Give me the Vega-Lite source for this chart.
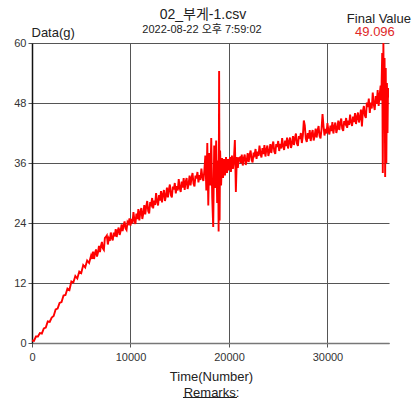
{
  "$schema": "https://vega.github.io/schema/vega-lite/v6.json",
  "width": 357,
  "height": 300,
  "autosize": {"type": "none"},
  "padding": {"left": 32, "top": 43, "right": 26, "bottom": 56},
  "background": "white",
  "config": {
    "font": "Liberation Sans, Noto Sans CJK KR",
    "view": {"stroke": null}
  },
  "layer": [
    {
      "data": {
        "values": [
          {"t":0,"v":0.5},{"t":200,"v":0.4},{"t":400,"v":1.3},{"t":600,"v":1.3},{"t":800,"v":2.0},{"t":1000,"v":1.9},
          {"t":1200,"v":2.9},{"t":1400,"v":3.1},{"t":1600,"v":4.3},{"t":1800,"v":4.2},{"t":2000,"v":5.1},{"t":2200,"v":5.4},
          {"t":2400,"v":6.7},{"t":2600,"v":6.9},{"t":2800,"v":8.0},{"t":3000,"v":8.2},{"t":3200,"v":9.5},{"t":3400,"v":9.6},
          {"t":3600,"v":10.9},{"t":3800,"v":10.6},{"t":4000,"v":12.3},{"t":4200,"v":12.1},{"t":4400,"v":13.4},{"t":4600,"v":12.9},
          {"t":4800,"v":14.3},{"t":5000,"v":14.0},{"t":5200,"v":15.6},{"t":5400,"v":15.1},{"t":5600,"v":16.5},{"t":5800,"v":16.0},
          {"t":6000,"v":17.5},{"t":6100,"v":16.8},{"t":6200,"v":18.3},{"t":6300,"v":16.8},{"t":6400,"v":18.0},{"t":6500,"v":18.7},
          {"t":6600,"v":17.3},{"t":6700,"v":18.1},{"t":6800,"v":19.4},{"t":6900,"v":18.2},{"t":7000,"v":19.4},{"t":7100,"v":20.2},
          {"t":7200,"v":18.9},{"t":7300,"v":18.6},{"t":7400,"v":21.0},{"t":7500,"v":21.2},{"t":7600,"v":21.5},{"t":7700,"v":19.7},
          {"t":7800,"v":20.9},{"t":7900,"v":20.4},{"t":8000,"v":22.1},{"t":8100,"v":21.0},{"t":8200,"v":20.5},{"t":8300,"v":22.1},
          {"t":8400,"v":21.3},{"t":8500,"v":22.8},{"t":8600,"v":21.2},{"t":8700,"v":22.4},{"t":8800,"v":23.1},{"t":8900,"v":21.6},
          {"t":9000,"v":22.4},{"t":9100,"v":23.7},{"t":9200,"v":22.4},{"t":9300,"v":23.5},{"t":9400,"v":24.3},{"t":9500,"v":22.9},
          {"t":9600,"v":22.6},{"t":9700,"v":24.2},{"t":9800,"v":23.9},{"t":9900,"v":24.9},{"t":10000,"v":23.5},{"t":10100,"v":24.8},
          {"t":10200,"v":23.9},{"t":10300,"v":26.2},{"t":10400,"v":24.6},{"t":10500,"v":23.8},{"t":10600,"v":25.9},{"t":10700,"v":24.8},
          {"t":10800,"v":26.8},{"t":10900,"v":24.5},{"t":11000,"v":26.1},{"t":11100,"v":27.0},{"t":11200,"v":24.8},{"t":11300,"v":25.9},
          {"t":11400,"v":27.6},{"t":11500,"v":25.7},{"t":11600,"v":27.3},{"t":11700,"v":28.4},{"t":11800,"v":26.4},{"t":11900,"v":25.9},
          {"t":12000,"v":28.2},{"t":12100,"v":27.7},{"t":12200,"v":29.0},{"t":12300,"v":26.9},{"t":12400,"v":28.5},{"t":12500,"v":27.6},
          {"t":12600,"v":30.0},{"t":12700,"v":28.3},{"t":12800,"v":27.5},{"t":12900,"v":29.6},{"t":13000,"v":28.5},{"t":13100,"v":30.4},
          {"t":13200,"v":28.1},{"t":13300,"v":29.7},{"t":13400,"v":30.6},{"t":13500,"v":28.4},{"t":13600,"v":29.4},{"t":13700,"v":31.1},
          {"t":13800,"v":29.1},{"t":13900,"v":30.7},{"t":14000,"v":31.7},{"t":14100,"v":29.6},{"t":14200,"v":29.1},{"t":14300,"v":31.3},
          {"t":14400,"v":30.7},{"t":14500,"v":32.0},{"t":14600,"v":29.9},{"t":14700,"v":31.4},{"t":14800,"v":30.5},{"t":14900,"v":32.8},
          {"t":15000,"v":31.0},{"t":15100,"v":30.2},{"t":15200,"v":32.3},{"t":15300,"v":31.1},{"t":15400,"v":33.0},{"t":15500,"v":30.6},
          {"t":15600,"v":32.2},{"t":15700,"v":33.0},{"t":15800,"v":30.8},{"t":15900,"v":31.8},{"t":16000,"v":33.5},{"t":16100,"v":31.5},
          {"t":16200,"v":33.0},{"t":16300,"v":34.0},{"t":16400,"v":31.9},{"t":16500,"v":31.3},{"t":16600,"v":33.5},{"t":16700,"v":32.9},
          {"t":16800,"v":34.2},{"t":16900,"v":32.1},{"t":17000,"v":33.6},{"t":17100,"v":32.6},{"t":17200,"v":34.9},{"t":17300,"v":33.2},
          {"t":17400,"v":32.4},{"t":17500,"v":34.5},{"t":17600,"v":37.5},{"t":17700,"v":30.5},{"t":17800,"v":40.0},{"t":17900,"v":27.5},
          {"t":18000,"v":38.0},{"t":18100,"v":31.5},{"t":18200,"v":41.0},{"t":18300,"v":29.0},{"t":18400,"v":23.2},{"t":18500,"v":39.5},
          {"t":18600,"v":31.0},{"t":18700,"v":40.5},{"t":18800,"v":28.0},{"t":18900,"v":36.5},{"t":18950,"v":22.3},{"t":19000,"v":54.4},
          {"t":19050,"v":24.5},{"t":19100,"v":38.5},{"t":19200,"v":31.5},{"t":19300,"v":37.0},{"t":19400,"v":33.0},{"t":19500,"v":36.8},
          {"t":19600,"v":33.5},{"t":19700,"v":37.2},{"t":19800,"v":34.0},{"t":19900,"v":36.8},{"t":20000,"v":34.5},{"t":20100,"v":37.2},
          {"t":20200,"v":34.2},{"t":20300,"v":37.5},{"t":20400,"v":34.8},{"t":20500,"v":36.6},{"t":20600,"v":40.6},{"t":20700,"v":30.2},
          {"t":20800,"v":37.2},{"t":20900,"v":35.0},{"t":21000,"v":37.0},{"t":21100,"v":37.1},{"t":21200,"v":36.0},{"t":21300,"v":37.7},
          {"t":21400,"v":35.5},{"t":21500,"v":36.9},{"t":21600,"v":37.7},{"t":21700,"v":35.6},{"t":21800,"v":36.5},{"t":21900,"v":38.0},
          {"t":22000,"v":36.2},{"t":22100,"v":37.6},{"t":22200,"v":38.5},{"t":22300,"v":36.6},{"t":22400,"v":36.1},{"t":22500,"v":38.1},
          {"t":22600,"v":37.6},{"t":22700,"v":38.8},{"t":22800,"v":36.8},{"t":22900,"v":38.3},{"t":23000,"v":37.4},{"t":23100,"v":39.5},
          {"t":23200,"v":37.9},{"t":23300,"v":37.1},{"t":23400,"v":39.0},{"t":23500,"v":37.8},{"t":23600,"v":39.6},{"t":23700,"v":37.3},
          {"t":23800,"v":38.7},{"t":23900,"v":39.5},{"t":24000,"v":37.4},{"t":24100,"v":38.3},{"t":24200,"v":39.8},{"t":24300,"v":38.0},
          {"t":24400,"v":39.4},{"t":24500,"v":40.3},{"t":24600,"v":38.3},{"t":24700,"v":37.8},{"t":24800,"v":39.8},{"t":24900,"v":39.2},
          {"t":25000,"v":40.4},{"t":25100,"v":38.4},{"t":25200,"v":39.8},{"t":25300,"v":38.9},{"t":25400,"v":41.0},{"t":25500,"v":39.4},
          {"t":25600,"v":38.6},{"t":25700,"v":40.5},{"t":25800,"v":39.4},{"t":25900,"v":41.1},{"t":26000,"v":38.9},{"t":26100,"v":40.3},
          {"t":26200,"v":41.1},{"t":26300,"v":39.0},{"t":26400,"v":39.9},{"t":26500,"v":41.4},{"t":26600,"v":39.6},{"t":26700,"v":41.0},
          {"t":26800,"v":41.9},{"t":26900,"v":39.9},{"t":27000,"v":39.4},{"t":27100,"v":41.4},{"t":27200,"v":40.8},{"t":27300,"v":42.0},
          {"t":27400,"v":40.0},{"t":27500,"v":41.4},{"t":27600,"v":44.5},{"t":27700,"v":43.5},{"t":27800,"v":40.9},{"t":27900,"v":40.2},
          {"t":28000,"v":42.0},{"t":28100,"v":40.9},{"t":28200,"v":42.6},{"t":28300,"v":40.4},{"t":28400,"v":41.8},{"t":28500,"v":42.6},
          {"t":28600,"v":40.5},{"t":28700,"v":41.4},{"t":28800,"v":42.9},{"t":28900,"v":41.1},{"t":29000,"v":42.5},{"t":29100,"v":43.4},
          {"t":29200,"v":41.4},{"t":29300,"v":40.9},{"t":29400,"v":42.8},{"t":29500,"v":45.8},{"t":29600,"v":43.4},{"t":29700,"v":41.5},
          {"t":29800,"v":42.8},{"t":29900,"v":41.9},{"t":30000,"v":44.0},{"t":30100,"v":42.4},{"t":30200,"v":41.7},{"t":30300,"v":43.5},
          {"t":30400,"v":42.4},{"t":30500,"v":44.2},{"t":30600,"v":41.9},{"t":30700,"v":43.3},{"t":30800,"v":44.1},{"t":30900,"v":42.0},
          {"t":31000,"v":42.9},{"t":31100,"v":44.5},{"t":31200,"v":42.6},{"t":31300,"v":44.0},{"t":31400,"v":44.9},{"t":31500,"v":42.9},
          {"t":31600,"v":42.4},{"t":31700,"v":44.4},{"t":31800,"v":43.9},{"t":31900,"v":45.0},{"t":32000,"v":43.0},{"t":32100,"v":44.5},
          {"t":32200,"v":43.6},{"t":32300,"v":45.7},{"t":32400,"v":44.2},{"t":32500,"v":43.4},{"t":32600,"v":45.3},{"t":32700,"v":44.2},
          {"t":32800,"v":46.0},{"t":32900,"v":43.8},{"t":33000,"v":45.2},{"t":33100,"v":46.1},{"t":33200,"v":44.1},{"t":33300,"v":45.1},
          {"t":33400,"v":46.7},{"t":33500,"v":43.3},{"t":33600,"v":46.4},{"t":33700,"v":47.4},{"t":33800,"v":45.5},{"t":33900,"v":45.0},
          {"t":34000,"v":48.1},{"t":34100,"v":47.2},{"t":34200,"v":48.9},{"t":34300,"v":46.0},{"t":34400,"v":48.1},{"t":34500,"v":46.9},
          {"t":34600,"v":50.1},{"t":34700,"v":47.7},{"t":34800,"v":46.6},{"t":34900,"v":49.4},{"t":35000,"v":47.8},{"t":35100,"v":50.6},
          {"t":35200,"v":47.4},{"t":35300,"v":49.6},{"t":35400,"v":51.5},{"t":35450,"v":48.5},{"t":35500,"v":52.0},{"t":35560,"v":58.0},
          {"t":35620,"v":34.0},{"t":35680,"v":60.0},{"t":35740,"v":46.0},{"t":35800,"v":57.0},{"t":35860,"v":33.2},{"t":35920,"v":55.0},
          {"t":35980,"v":36.0},{"t":36040,"v":52.0},{"t":36100,"v":42.0},{"t":36150,"v":51.0},{"t":36200,"v":49.1}
        ]
      },
      "mark": {"type": "line", "color": "#ff0000", "strokeWidth": 1.9, "clip": true},
      "encoding": {
        "x": {
          "field": "t", "type": "quantitative",
          "scale": {"domain": [0, 36250], "nice": false, "zero": false},
          "axis": {
            "values": [0, 10000, 20000, 30000],
            "format": "d",
            "grid": true, "gridColor": "#555", "gridOpacity": 1, "gridWidth": 1,
            "domainColor": "#777", "domainWidth": 1.5,
            "tickColor": "#555", "tickSize": 4,
            "labelColor": "#333", "labelFontSize": 11, "labelPadding": 4,
            "labelFlush": false,
            "title": ["Time(Number)", "Remarks:"],
            "titleFontSize": 13, "titleFontWeight": "normal", "titleColor": "#222",
            "titleLineHeight": 16, "titleBaseline": "top", "titleY": 27, "titleX": 179
          }
        },
        "y": {
          "field": "v", "type": "quantitative",
          "scale": {"domain": [0, 60], "nice": false},
          "axis": {
            "values": [0, 12, 24, 36, 48, 60],
            "grid": true, "gridColor": "#555", "gridOpacity": 1, "gridWidth": 1,
            "domainColor": "#111", "domainWidth": 1.5,
            "tickColor": "#555", "tickSize": 4,
            "labelColor": "#333", "labelFontSize": 11, "labelPadding": 2,
            "title": "Data(g)", "titleAngle": 0, "titleAlign": "left", "titleBaseline": "middle",
            "titleX": -1, "titleY": -11,
            "titleFontSize": 13, "titleFontWeight": "normal", "titleColor": "#222"
          }
        }
      }
    },
    {
      "data": {"values": [{"label": "02_부게-1.csv"}]},
      "mark": {"type": "text", "align": "center", "baseline": "middle", "fontSize": 14, "color": "#222", "clip": false},
      "encoding": {
        "x": {"datum": 17360, "type": "quantitative"},
        "y": {"datum": 65.6, "type": "quantitative"},
        "text": {"field": "label"}
      }
    },
    {
      "data": {"values": [{"label": "2022-08-22 오후 7:59:02"}]},
      "mark": {"type": "text", "align": "center", "baseline": "middle", "fontSize": 11, "color": "#222", "clip": false},
      "encoding": {
        "x": {"datum": 17260, "type": "quantitative"},
        "y": {"datum": 62.7, "type": "quantitative"},
        "text": {"field": "label"}
      }
    },
    {
      "data": {"values": [{"label": "Final Value"}]},
      "mark": {"type": "text", "align": "right", "baseline": "middle", "fontSize": 13, "color": "#222", "clip": false},
      "encoding": {
        "x": {"datum": 38477, "type": "quantitative"},
        "y": {"datum": 64.9, "type": "quantitative"},
        "text": {"field": "label"}
      }
    },
    {
      "data": {"values": [{"label": "49.096"}]},
      "mark": {"type": "text", "align": "center", "baseline": "middle", "fontSize": 13, "color": "#e02828", "clip": false},
      "encoding": {
        "x": {"datum": 34822, "type": "quantitative"},
        "y": {"datum": 62.2, "type": "quantitative"},
        "text": {"field": "label"}
      }
    },
    {
      "data": {"values": [{}]},
      "mark": {"type": "rule", "color": "#222", "strokeWidth": 1, "clip": false},
      "encoding": {
        "x": {"datum": 15330, "type": "quantitative"},
        "x2": {"datum": 20810},
        "y": {"datum": -10.9, "type": "quantitative"}
      }
    }
  ]
}
